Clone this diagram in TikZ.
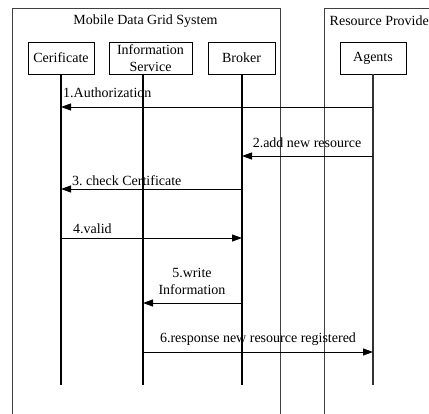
\documentclass[tikz,border=0pt]{standalone}
\usepackage{fontspec}
\setmainfont{Liberation Serif}
\usetikzlibrary{arrows.meta}
\frenchspacing

\begin{document}
\begin{tikzpicture}[
        x = 1pt, y = -1pt,
        every node/.style = {font=\fontsize{14}{17}\selectfont},
        actor/.style = {draw, line width=0.9pt, minimum height=32pt, inner sep=1pt, align=center},
        frame/.style = {draw=black!75, line width=1pt},
        life/.style = {line width=2.2pt},
        msg/.style = {line width=0.9pt, -{Triangle[length=10pt,width=7pt]}},
        lbl/.style = {inner sep=0pt}]
      \useasboundingbox (0,0) rectangle (429,414);
      \clip (0,0) rectangle (429,414);
      \draw [frame] (12,420) -- (12,9) -- (280,9) -- (280,420);
      \draw [frame] (324,420) -- (324,9) -- (440,9);
      \node (grid) at (145.5,21) {Mobile Data Grid System};
      \node [anchor=west, inner sep=0pt] (prov) at (329.5,21) {Resource Provide};
      \node [actor, minimum width=66pt] (cert) at (61,58) {Cerificate};
      \node [actor, minimum width=83pt] (info) at (150.5,58) {Information\\Service};
      \node [actor, minimum width=67pt] (broker) at (241.5,58) {Broker};
      \node [actor, minimum width=66pt] (agents) at (373,58) {Agents};
      \coordinate (certT) at (61,74);     \coordinate (certB) at (61,385);
      \coordinate (infoT) at (143,74);    \coordinate (infoB) at (143,385);
      \coordinate (brokerT) at (242,74);  \coordinate (brokerB) at (242,385);
      \coordinate (agentsT) at (373,74);  \coordinate (agentsB) at (373,385);
      \draw [life] (certT) -- (certB);
      \draw [life] (infoT) -- (infoB);
      \draw [life] (brokerT) -- (brokerB);
      \draw [line width=1.2pt, black!80] (agentsT) -- (agentsB);
      \draw [msg] (agentsT |- 0,107) -- (certT |- 0,107);
      \node [lbl, anchor=west] (m1) at (63,93) {1.Authorization};
      \draw [msg] (agentsT |- 0,156) -- (brokerT |- 0,156);
      \node [lbl] (m2) at (307,143) {2.add new resource};
      \draw [msg] (brokerT |- 0,189) -- (certT |- 0,189);
      \node [lbl, anchor=west] (m3) at (72,181) {3. check Certificate};
      \draw [msg] (certT |- 0,238) -- (brokerT |- 0,238);
      \node [lbl, anchor=west] (m4) at (73,229) {4.valid};
      \draw [msg] (brokerT |- 0,303) -- (infoT |- 0,303);
      \node [lbl, align=center] (m5) at (192,281) {5.write\\Information};
      \draw [msg] (infoT |- 0,352) -- (agentsT |- 0,352);
      \node [lbl] (m6) at (258,339) {6.response new resource registered};
    \end{tikzpicture}
\end{document}
